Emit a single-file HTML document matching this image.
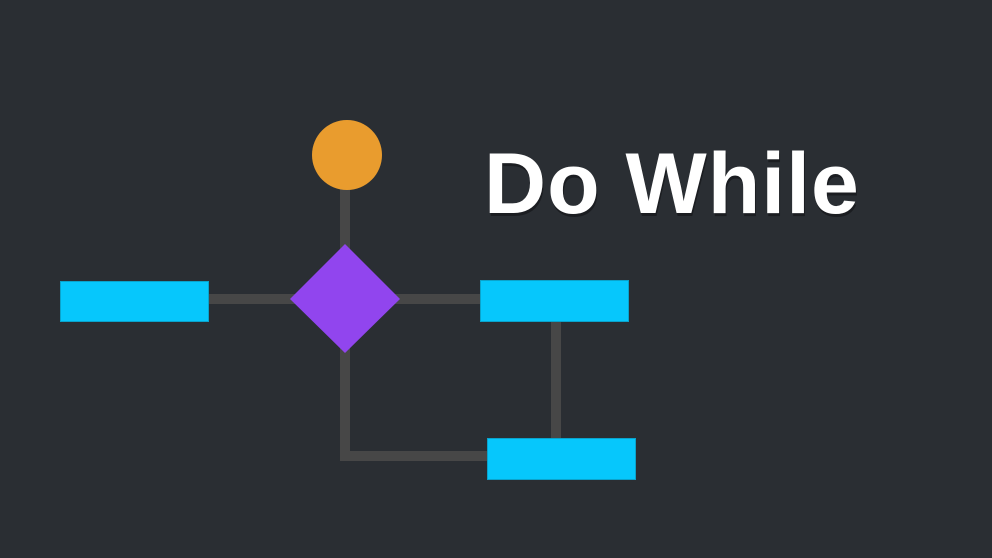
<!DOCTYPE html>
<html><head><meta charset="utf-8"><style>
html,body{margin:0;padding:0;width:992px;height:558px;overflow:hidden;background:#2a2e33}
</style></head><body>
<svg width="992" height="558" viewBox="0 0 992 558" xmlns="http://www.w3.org/2000/svg" style="position:absolute;left:0;top:0">
<rect width="992" height="558" fill="#2a2e33"/>
<g fill="#474747">
<rect x="340" y="185" width="10" height="65"/>
<rect x="205" y="294" width="90" height="10"/>
<rect x="395" y="294" width="90" height="10"/>
<rect x="340" y="345" width="10" height="116"/>
<rect x="340" y="451" width="150" height="10"/>
<rect x="551" y="318" width="10" height="124"/>
</g>
<circle cx="347" cy="155" r="35" fill="#e99c2e"/>
<polygon points="345,244 400,299 345,353 290,299" fill="#9145ee"/>
<g fill="#06c7fc" stroke="#0aa3cc" stroke-width="1">
<rect x="60.5" y="281.5" width="148" height="40"/>
<rect x="480.5" y="280.5" width="148" height="41"/>
<rect x="487.5" y="438.5" width="148" height="41"/>
</g>
<text x="484" y="213" font-family="Liberation Sans, sans-serif" font-weight="bold" font-size="86" fill="#000" opacity="0.35" transform="translate(1,3)" letter-spacing="1">Do While</text>
<text x="484" y="213" font-family="Liberation Sans, sans-serif" font-weight="bold" font-size="86" fill="#ffffff" letter-spacing="1">Do While</text>
</svg>
</body></html>
